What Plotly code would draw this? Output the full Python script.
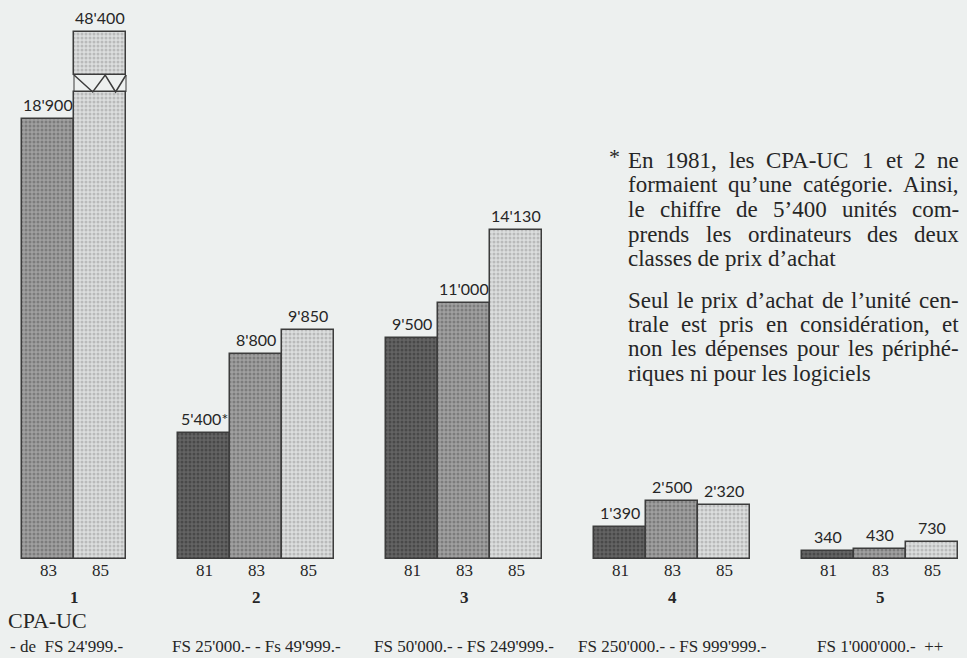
import plotly.graph_objects as go

# ---------------- data ----------------
group_labels = ["1", "2", "3", "4", "5"]
year_labels = ["81", "83", "85"]
v81 = [None, 5400, 9500, 1390, 340]
v83 = [18900, 8800, 11000, 2500, 430]
v85 = [48400, 9850, 14130, 2320, 730]
footnote_marks = {(1, "81"): "*"}  # (group index, year) -> suffix
price_labels = ["- de  FS 24'999.-", "FS 25'000.- - Fs 49'999.-",
                "FS 50'000.- - FS 249'999.-", "FS 250'000.- - FS 999'999.-",
                "FS 1'000'000.-  ++"]
category_title = "CPA-UC"
note_par_1 = ["En 1981, les CPA-UC 1 et 2 ne",
              "formaient qu\u2019une catégorie. Ainsi,",
              "le chiffre de 5\u2019400 unités com-",
              "prends les ordinateurs des deux",
              "classes de prix d\u2019achat"]
note_par_2 = ["Seul le prix d\u2019achat de l\u2019unité cen-",
              "trale est pris en considération, et",
              "non les dépenses pour les périphé-",
              "riques ni pour les logiciels"]

# ---------------- layout constants ----------------
W, H = 967, 658
BASE_PX = 559          # pixel row of the baseline
Y_MAX = 24000          # value at top of plot area
BREAK_LOW = 20050      # broken bar: lower part capped here
BREAK_HIGH = 20780     # top of the zigzag
BOX_TOP = 22630        # top of the box showing the off-scale value
SLOT_PX = 52.0
LEFT_PX = 22.0
NOTE_L, NOTE_R, NOTE_SIZE = 627, 958, 23

fills = {"81": dict(bg="#646464", fg="#2e2e2e"),
         "83": dict(bg="#a0a0a0", fg="#585858"),
         "85": dict(bg="#dcdede", fg="#969696")}
LINE = "#3c3c3c"
TXT = "#262626"
BG = "#edf0ef"
SERIF = "Liberation Serif"
SANS = "Lato"

# Times-compatible advance widths (1/1000 em) for justification
TW = {" ": 250, ",": 250, ".": 250, "-": 333, "\u2019": 333, "'": 180, "*": 500,
      "a": 444, "b": 500, "c": 444, "d": 500, "e": 444, "f": 333, "g": 500, "h": 500,
      "i": 278, "j": 278, "k": 500, "l": 278, "m": 778, "n": 500, "o": 500, "p": 500,
      "q": 500, "r": 333, "s": 389, "t": 278, "u": 500, "v": 500, "w": 722, "x": 500,
      "y": 500, "z": 444, "é": 444, "è": 444,
      "A": 722, "C": 667, "E": 611, "P": 556, "S": 556, "U": 722}

def text_w(s, size):
    return sum(TW.get(ch, 500) for ch in s) * size / 1000.0

def fmt(v):
    return f"{v:,}".replace(",", "'")

def pyp(p):  # pixel row -> paper y
    return (BASE_PX - p) / BASE_PX

def pxp(p):  # pixel column -> paper x
    return p / W

series = {"81": v81, "83": v83, "85": v85}

# positions (slot units)
positions = {}
group_centers = []
cursor = 0
for gi in range(len(group_labels)):
    start = cursor
    for yr in year_labels:
        v = series[yr][gi]
        if v is None:
            continue
        positions[(gi, yr)] = cursor + 0.5
        cursor += 1
    group_centers.append((start + cursor) / 2)
    cursor += 1

fig = go.Figure()
annotations = []
shapes = []

def bar_marker(yr):
    return dict(color=fills[yr]["bg"], line=dict(color=LINE, width=1.5),
                pattern=dict(shape=".", fgcolor=fills[yr]["fg"],
                             bgcolor=fills[yr]["bg"], size=4, solidity=0.45))

for yr in year_labels:
    xs, ys = [], []
    for gi in range(len(group_labels)):
        v = series[yr][gi]
        if v is None:
            continue
        xs.append(positions[(gi, yr)])
        ys.append(min(v, BREAK_LOW))
    fig.add_trace(go.Bar(x=xs, y=ys, width=1.0, marker=bar_marker(yr),
                         showlegend=False, hoverinfo="skip"))

# broken bars: box above the zigzag
for gi in range(len(group_labels)):
    for yr in year_labels:
        v = series[yr][gi]
        if v is None or v <= BREAK_LOW:
            continue
        xc = positions[(gi, yr)]
        fig.add_trace(go.Bar(x=[xc], y=[BOX_TOP - BREAK_HIGH], base=[BREAK_HIGH],
                             width=1.0, marker=bar_marker(yr),
                             showlegend=False, hoverinfo="skip"))
        x0, x1 = xc - 0.5, xc + 0.5
        path = (f"M {x0},{BREAK_HIGH} L {x0 + 0.36},{BREAK_LOW} L {x0 + 0.6},{BREAK_HIGH} "
                f"L {x0 + 0.8},{BREAK_LOW} L {x1},{BREAK_HIGH}")
        shapes.append(dict(type="path", path=path, xref="x", yref="y",
                           line=dict(color=LINE, width=1.5)))
        for xe in (x0, x1):
            shapes.append(dict(type="line", x0=xe, x1=xe, y0=BREAK_LOW, y1=BREAK_HIGH,
                               xref="x", yref="y", line=dict(color=LINE, width=1.0)))

# value labels, year labels, group numbers, price classes
for gi in range(len(group_labels)):
    for yr in year_labels:
        v = series[yr][gi]
        if v is None:
            continue
        xc = positions[(gi, yr)]
        ytop = BOX_TOP if v > BREAK_LOW else v
        annotations.append(dict(x=xc, y=ytop, xref="x", yref="y",
                                text=fmt(v) + footnote_marks.get((gi, yr), ""),
                                showarrow=False, yanchor="bottom", yshift=3,
                                font=dict(family=SANS, size=16, color=TXT)))
        annotations.append(dict(x=xc, y=pyp(570), xref="x", yref="paper",
                                text=yr, showarrow=False, yanchor="middle",
                                font=dict(family=SERIF, size=17, color=TXT)))
    annotations.append(dict(x=group_centers[gi], y=pyp(597), xref="x", yref="paper",
                            text=f"<b>{group_labels[gi]}</b>", showarrow=False,
                            yanchor="middle",
                            font=dict(family=SERIF, size=17, color=TXT)))
    annotations.append(dict(x=group_centers[gi], y=pyp(646), xref="x", yref="paper",
                            text=price_labels[gi], showarrow=False, yanchor="middle",
                            xshift=-8 if gi == 0 else 0,
                            font=dict(family=SERIF, size=17, color=TXT)))

annotations.append(dict(x=pxp(6), y=pyp(620), xref="paper", yref="paper",
                        text=category_title, showarrow=False, xanchor="left",
                        yanchor="middle", font=dict(family=SERIF, size=22, color=TXT)))

# notes (justified paragraphs)
annotations.append(dict(x=pxp(614), y=pyp(157), xref="paper", yref="paper", text="*",
                        showarrow=False, xanchor="center", yanchor="middle",
                        font=dict(family=SERIF, size=22, color=TXT)))

def add_paragraph(lines, top_px, step):
    for i, line in enumerate(lines):
        ypos = pyp(top_px + step * i)
        words = line.split(" ")
        last = i == len(lines) - 1
        if last or len(words) < 2:
            annotations.append(dict(x=pxp(NOTE_L), y=ypos, xref="paper", yref="paper",
                                    text=line, showarrow=False, xanchor="left",
                                    yanchor="middle", borderpad=0,
                                    font=dict(family=SERIF, size=NOTE_SIZE, color=TXT)))
            continue
        widths = [text_w(w, NOTE_SIZE) for w in words]
        gap = (NOTE_R - NOTE_L - sum(widths)) / (len(words) - 1)
        xcur = NOTE_L
        for w, wd in zip(words, widths):
            annotations.append(dict(x=pxp(xcur), y=ypos, xref="paper", yref="paper",
                                    text=w, showarrow=False, xanchor="left",
                                    yanchor="middle", borderpad=0,
                                    font=dict(family=SERIF, size=NOTE_SIZE, color=TXT)))
            xcur += wd + gap

add_paragraph(note_par_1, 160, 24.7)
add_paragraph(note_par_2, 300, 24.4)

fig.update_layout(
    width=W, height=H,
    margin=dict(l=0, r=0, t=0, b=H - BASE_PX, pad=0),
    paper_bgcolor=BG, plot_bgcolor=BG,
    barmode="overlay", bargap=0,
    xaxis=dict(range=[-LEFT_PX / SLOT_PX, (W - LEFT_PX) / SLOT_PX], visible=False,
               fixedrange=True),
    yaxis=dict(range=[0, Y_MAX], visible=False, fixedrange=True),
    annotations=annotations, shapes=shapes,
)

fig.write_html("out.html",
               config={"displayModeBar": False},
               post_script="document.body.style.margin='0';"
                           "document.body.style.overflow='hidden';"
                           "document.body.style.background='" + BG + "';")
